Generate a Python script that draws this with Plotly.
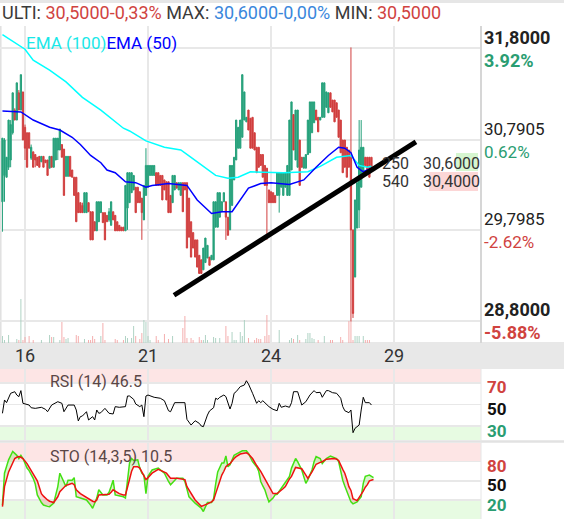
import numpy as np
import plotly.graph_objects as go

W, H = 564, 519

# ---------------- data ----------------
day_ticks_idx = [11, 71, 131, 191]
day_ticks_txt = ["16", "21", "24", "29"]

opens = [
30.11,30.40,30.38,30.49,30.57,30.87,31.12,31.01,31.31,31.12,
31.32,30.93,30.87,30.87,30.59,30.66,30.63,30.60,30.61,30.55,
30.61,30.57,30.57,30.48,30.61,30.49,30.57,30.68,30.68,30.74,
30.69,30.39,30.39,30.61,30.46,30.38,30.38,30.21,30.10,30.07,
29.99,29.99,30.10,30.00,30.00,29.89,29.79,29.89,29.99,29.99,
29.99,29.96,29.91,29.85,30.00,29.96,29.89,29.85,29.83,29.83,
29.79,30.04,30.10,30.21,30.24,30.27,30.27,30.22,30.15,29.91,
30.18,30.27,30.40,30.40,30.40,30.43,30.43,30.40,30.40,30.35,
30.33,30.33,30.18,30.10,30.24,30.32,30.24,30.18,30.32,30.32,
30.32,30.15,29.89,29.77,29.69,29.69,29.52,29.47,29.36,29.44,
29.49,29.50,29.47,29.47,29.83,29.83,29.94,30.00,30.11,30.11,
29.94,29.80,30.07,30.35,30.57,30.70,30.70,30.82,31.01,30.99,
31.12,31.03,31.04,30.87,30.71,30.71,30.63,30.63,30.51,30.48,
30.24,30.22,30.21,30.18,30.18,30.18,30.27,30.18,30.27,30.18,
30.18,30.46,31.07,30.57,30.49,30.79,30.60,30.48,30.48,30.63,
30.65,30.87,30.98,31.12,31.04,31.01,31.04,31.04,31.15,31.09,
31.31,31.23,31.23,31.20,31.12,31.01,30.79,30.79,30.71,30.68,
30.60,29.80,29.28,29.82,30.02,30.27,30.43,30.60,30.60,30.60,30.60]

closes = [
30.81,30.79,30.60,31.01,30.96,31.31,31.01,31.42,31.12,31.51,
30.79,30.70,30.49,30.70,30.71,30.49,30.57,30.51,30.49,30.61,
30.49,30.54,30.40,30.61,30.49,30.81,30.81,30.81,30.91,30.60,
30.18,30.61,30.61,30.39,30.38,30.18,29.89,29.99,29.99,29.99,
30.21,30.21,30.00,29.69,29.69,29.79,30.11,30.11,30.11,29.88,
29.69,29.89,30.00,30.11,29.91,29.79,29.79,29.79,29.79,29.79,
30.29,30.43,30.43,30.43,30.40,29.99,30.10,30.10,29.99,30.29,
30.51,30.51,30.51,30.51,30.51,30.29,30.29,30.29,30.13,30.24,
30.13,29.99,29.99,30.40,30.40,30.26,30.32,30.32,30.00,30.24,
29.60,29.72,29.50,29.60,29.50,29.39,29.32,29.32,29.60,29.71,
29.63,29.41,29.52,30.11,30.11,30.21,30.21,30.11,30.21,29.94,
29.74,30.51,30.51,30.60,31.01,30.93,31.01,31.51,31.32,31.04,
30.90,30.70,30.70,30.68,30.43,30.49,30.51,30.38,30.29,30.29,
30.10,30.10,30.10,30.10,30.43,30.43,30.43,30.43,30.43,30.51,
31.01,31.21,30.68,31.12,31.12,30.29,30.49,30.60,30.63,31.01,
31.21,31.21,31.21,31.01,30.88,31.04,31.42,31.42,31.32,31.31,
31.15,31.10,30.99,31.04,30.82,30.65,30.43,30.49,30.38,30.49,
29.80,28.88,30.13,30.32,30.68,30.71,30.71,30.51,30.43,30.38,30.49]

highs = [
30.81,30.81,30.60,31.01,31.01,31.31,31.14,31.42,31.34,31.51,
31.32,30.96,30.87,30.87,30.74,30.66,30.63,30.60,30.61,30.61,
30.61,30.57,30.57,30.61,30.61,30.81,30.81,30.81,30.91,30.74,
30.69,30.61,30.61,30.61,30.46,30.38,30.38,30.21,30.10,30.10,
30.21,30.21,30.10,30.00,30.00,29.89,30.11,30.11,30.11,29.99,
29.99,29.96,30.04,30.11,30.00,29.96,29.89,29.85,29.83,29.83,
30.29,30.43,30.43,30.43,30.40,30.27,30.27,30.22,30.15,30.29,
30.70,30.51,30.51,30.51,30.51,30.43,30.43,30.40,30.40,30.35,
30.33,30.33,30.18,30.40,30.40,30.32,30.32,30.32,30.32,30.32,
30.32,30.15,29.89,29.77,29.69,29.69,29.52,29.47,29.60,29.71,
29.63,29.50,29.52,30.11,30.11,30.21,30.21,30.11,30.21,30.11,
29.94,30.51,30.51,30.60,31.01,30.93,31.01,31.51,31.32,31.04,
31.12,31.03,31.04,30.87,30.71,30.71,30.63,30.63,30.51,30.48,
30.24,30.22,30.21,30.18,30.43,30.43,30.43,30.43,30.43,30.51,
31.01,31.21,31.07,31.12,31.12,30.79,30.60,30.60,30.63,31.01,
31.21,31.21,31.21,31.12,31.04,31.04,31.42,31.42,31.32,31.31,
31.31,31.23,31.23,31.20,31.12,31.01,30.79,30.79,30.71,30.68,
31.81,29.80,30.13,30.32,31.01,31.01,30.71,30.60,30.60,30.60,30.60]

lows = [
29.78,30.11,30.38,30.46,30.49,30.85,31.01,31.01,31.12,31.12,
30.79,30.57,30.49,30.70,30.57,30.49,30.49,30.51,30.49,30.55,
30.49,30.54,30.40,30.48,30.49,30.49,30.57,30.57,30.68,30.60,
30.18,30.39,30.39,30.39,30.38,30.18,29.89,29.99,29.99,29.99,
29.99,29.99,30.00,29.69,29.69,29.79,29.79,29.89,29.99,29.88,
29.69,29.89,29.89,29.85,29.91,29.79,29.79,29.79,29.79,29.79,
29.79,29.80,30.10,30.21,30.24,29.99,30.10,30.10,29.69,29.91,
30.18,30.27,30.40,30.40,30.40,30.29,30.29,30.29,30.13,30.24,
30.13,29.99,29.99,30.10,30.24,30.26,30.24,30.18,30.00,30.24,
29.60,29.72,29.50,29.60,29.50,29.39,29.32,29.32,29.36,29.44,
29.49,29.41,29.47,29.47,29.83,29.83,29.94,30.00,30.11,29.69,
29.74,29.80,30.07,30.35,30.57,30.70,30.70,30.82,31.01,30.99,
30.90,30.70,30.70,30.68,30.43,30.49,30.51,30.38,30.29,29.69,
30.10,30.10,30.10,30.10,30.18,29.99,30.27,30.18,30.27,30.18,
30.18,30.46,30.68,30.57,30.49,30.29,30.49,30.48,30.48,30.63,
30.65,30.87,30.98,31.01,30.88,31.01,31.04,31.04,31.15,31.09,
31.15,31.10,30.99,31.04,30.82,30.65,30.43,30.49,30.38,30.49,
28.79,28.83,29.28,29.82,29.82,30.27,30.43,30.51,30.43,30.38,30.49]

volumes = [
7,3,0,8,0,0,0,4,3,44,
3,6,0,7,0,3,0,0,0,3,
0,0,0,8,6,6,0,0,3,21,
6,4,5,0,0,0,8,7,0,0,
4,0,3,3,7,4,0,0,7,20,
3,0,0,0,0,4,3,0,0,3,
7,5,0,5,17,7,0,4,10,23,
21,7,3,0,0,7,3,0,0,9,
0,4,0,7,0,0,0,0,15,27,
5,0,5,3,0,0,6,3,3,8,
3,0,0,6,5,0,5,0,0,17,
7,0,11,3,3,0,11,7,23,0,
5,0,0,3,5,4,4,0,7,28,
8,0,0,0,0,13,0,0,0,0,
3,5,4,0,8,3,0,0,4,10,
10,5,4,0,3,0,0,7,0,0,
3,3,0,0,0,6,3,0,0,22,
22,3,7,7,7,0,7,3,3,3,0]

ema100_idx = [0, 11, 15, 23, 31, 39, 48, 54, 59, 62, 70, 79, 87, 92, 99, 104, 110,
              115, 121, 130, 137, 149, 155, 163, 170, 174, 178, 180]
ema100_val = [31.95, 31.79, 31.67, 31.56, 31.43, 31.26, 31.12, 31.01, 30.92, 30.89,
              30.78, 30.71, 30.68, 30.60, 30.48, 30.40, 30.37, 30.38, 30.44, 30.43,
              30.43, 30.44, 30.50, 30.60, 30.62, 30.51, 30.49, 30.50]

ema50_idx = [0, 9, 15, 23, 28, 34, 38, 43, 48, 51, 55, 60, 65, 70, 73, 81, 90, 95,
             102, 107, 112, 116, 120, 126, 131, 140, 147, 153, 159, 164, 167, 170,
             173, 176, 180]
ema50_val = [31.11, 31.10, 31.01, 30.93, 30.90, 30.82, 30.74, 30.62, 30.54, 30.46,
             30.43, 30.33, 30.32, 30.27, 30.29, 30.31, 30.29, 30.13, 29.98, 30.00,
             30.00, 30.13, 30.26, 30.31, 30.32, 30.30, 30.35, 30.49, 30.62, 30.71,
             30.70, 30.65, 30.49, 30.44, 30.48]

trend_idx = [83.7, 201.7]
trend_price = [29.08, 30.77]

rsi_idx = [0,1,2,4,6,7,8,9,10,13, 14,16,19,21,22,24,27,29,30,32,
           35,36,37,38,39,41,42,44,45,46, 47,48,50,52,54,55,57,60,61,62,
           64,65,67,68,69,70,71,74,77,79, 81,82,84,89,90,92,94,96,97,98,
           100,101,103,104,105,106,108,109,111,112, 113,114,116,118,119,120,122,124,125,126,
           127,128,130,132,134,135,136,138,140,141, 142,144,145,146,148,150,152,153,155,156,
           158,159,161,163,165,166,167,169,170,171, 172,174,175,176,177,179,180]
rsi_val = [41.8,54.2,51.7,60.4,61.9,58.8,57.3,62.9,51.1,49.5,
           47.0,46.4,47.4,45.5,43.3,49.5,52.6,51.1,43.3,49.5,
           49.5,44.9,34.7,38.7,39.3,43.3,35.6,38.7,35.6,44.9,
           41.8,42.4,46.4,41.8,41.2,48.0,47.4,48.0,57.9,57.9,
           54.8,50.5,48.0,49.5,38.7,57.9,58.8,56.7,55.8,53.5,
           44.2,43.3,51.7,51.7,36.2,30.9,34.9,32.5,30.0,29.4,
           40.2,44.0,47.0,55.8,54.8,56.7,58.8,57.3,45.8,51.1,
           60.4,61.9,66.6,68.1,72.1,69.1,60.4,51.1,53.5,51.7,
           53.5,51.7,48.0,45.5,44.2,51.1,47.4,48.6,47.4,51.7,
           61.9,61.9,54.8,49.5,52.6,58.8,62.9,61.0,61.3,56.7,
           62.9,62.9,61.0,60.4,55.8,48.0,44.2,42.4,44.9,23.8,
           27.9,30.9,44.9,56.7,51.7,51.7,49.5]

sto_idx = [0,1,3,5,6,7,8,9,10,12, 13,15,16,17,19,20,22,23,25,27,
           28,30,31,32,34,35,36,38,39,41, 43,44,45,46,47,49,51,52,53,54,
           55,57,59,60,61,62,63,64,66,67, 68,69,70,71,73,76,79,80,81,82,
           85,88,89,90,91,94,97,98,100,102, 103,104,105,107,108,109,110,111,113,114,
           116,117,119,120,122,124,125,126,127,128, 129,130,132,133,134,137,138,140,141,143,
           144,146,148,149,151,152,153,155,156,158, 160,162,163,164,166,167,168,169,170,171,
           173,175,176,177,178,179,181]
sto_k = [12,62,83,96,93,90,85,90,85,70, 66,54,45,28,16,12,10,9.5,15,41,
         62,46,41,51,51,55,25,23,22,20, 12,7,15,23,36,28,28,32,41,51,
         28,27,25,23,51,78,85,82,83,70, 62,59,30,57,67,70,62,55,49,44,
         54,54,49,37,25,15,7,2,16,16, 22,45,64,78,78,89,72,75,90,92,
         96,97,97,93,80,72,65,49,42,36, 26,17,23,28,29,43,48,57,70,85,
         80,67,46,52,67,80,88,85,77,85, 89,86,85,80,51,42,33,25,17,14,
         17,25,46,57,58,59,55]
sto_d = [9.5,41,64,80,85,87,88,87,85,77, 72,62,55,50,30,26,20,18,16,25,
         33,40,43,44,46,44,36,30,28,23, 20,18,17,20,28,28,28,29,32,36,
         34,30,28,28,40,55,65,72,72,70, 64,58,52,55,62,68,63,62,58,54,
         54,53,52,41,36,20,10,11,14,17, 20,30,41,59,65,72,75,77,85,88,
         92,93,94,92,85,74,70,65,59,53, 46,40,30,30,30,38,41,53,57,71,
         70,69,59,54,64,70,76,79,80,84, 85,85,84,82,68,62,52,41,35,22,
         19,28,34,40,44,50,52]

price_levels = [31.8, 30.7905, 29.7985, 28.8]
price_texts = ["31,8000", "30,7905", "29,7985", "28,8000"]
pct_texts = ["3.92%", "0.62%", "-2.62%", "-5.88%"]
level_bold = [True, False, False, True]

book_sizes = ["250", "540"]
book_prices = [30.60, 30.40]
book_texts = ["30,6000", "30,4000"]

# ---------------- styling ----------------
FONT = "Roboto"
UP = "#26a17b"
DN = "#d13f3f"
UP_VOL = "#a8cfbf"
DN_VOL = "#f3a7a7"
GRID = "#e8e8e8"
GREEN_TXT = "#2a9d72"
RED_TXT = "#d0433f"


def pxx(x):
    return x / W


def pxy(y):
    return 1 - y / H


X_RIGHT = 481
main_dom = [pxy(343), pxy(26)]
rsi_dom = [pxy(440), pxy(369)]
sto_dom = [0, pxy(442.7)]
x_dom = [0, pxx(X_RIGHT)]
x_range = [-1.195, 233.44]

fig = go.Figure()

n = len(opens)
idx = list(range(n))
vol_colors = [UP_VOL if c >= o else DN_VOL for o, c in zip(opens, closes)]

fig.add_trace(go.Candlestick(
    x=idx, open=opens, high=highs, low=lows, close=closes,
    increasing=dict(line=dict(color=UP, width=1), fillcolor=UP),
    decreasing=dict(line=dict(color=DN, width=1), fillcolor=DN),
    whiskerwidth=0, xaxis="x", yaxis="y", hoverinfo="skip"))
fig.add_trace(go.Scatter(x=ema100_idx, y=ema100_val, mode="lines",
                         line=dict(color="#00ffff", width=1.5), xaxis="x", yaxis="y"))
fig.add_trace(go.Scatter(x=ema50_idx, y=ema50_val, mode="lines",
                         line=dict(color="#0000ff", width=1.5), xaxis="x", yaxis="y"))
fig.add_trace(go.Scatter(x=trend_idx, y=trend_price, mode="lines",
                         line=dict(color="#000000", width=5), xaxis="x", yaxis="y"))
fig.add_trace(go.Bar(x=idx, y=volumes, marker=dict(color=vol_colors, line=dict(width=0)),
                     width=0.45, xaxis="x", yaxis="y4", hoverinfo="skip"))

# RSI
fig.add_trace(go.Scatter(x=rsi_idx, y=rsi_val, mode="lines",
                         line=dict(color="#000000", width=1), xaxis="x2", yaxis="y2"))

# STO with fills
k = np.array(sto_k, dtype=float)
d = np.array(sto_d, dtype=float)
top = np.maximum(k, d)
fig.add_trace(go.Scatter(x=sto_idx, y=k, mode="lines", line=dict(width=0),
                         xaxis="x3", yaxis="y3", hoverinfo="skip"))
fig.add_trace(go.Scatter(x=sto_idx, y=top, mode="lines", line=dict(width=0), fill="tonexty",
                         fillcolor="rgba(235,140,140,0.35)", xaxis="x3", yaxis="y3", hoverinfo="skip"))
fig.add_trace(go.Scatter(x=sto_idx, y=d, mode="lines", line=dict(width=0),
                         xaxis="x3", yaxis="y3", hoverinfo="skip"))
fig.add_trace(go.Scatter(x=sto_idx, y=top, mode="lines", line=dict(width=0), fill="tonexty",
                         fillcolor="rgba(140,230,110,0.35)", xaxis="x3", yaxis="y3", hoverinfo="skip"))
fig.add_trace(go.Scatter(x=sto_idx, y=k, mode="lines", line=dict(color="#44e014", width=1.5),
                         xaxis="x3", yaxis="y3"))
fig.add_trace(go.Scatter(x=sto_idx, y=d, mode="lines", line=dict(color="#ee1111", width=1.5),
                         xaxis="x3", yaxis="y3"))

common_x = dict(range=x_range, domain=x_dom, tickvals=day_ticks_idx, showgrid=True,
                gridcolor=GRID, gridwidth=2, zeroline=False, showline=False, ticks="")

fig.update_layout(
    width=W, height=H, margin=dict(l=0, r=0, t=0, b=0),
    paper_bgcolor="white", plot_bgcolor="rgba(0,0,0,0)", showlegend=False,
    boxgap=0.12,
    font=dict(family=FONT),
    xaxis=dict(**common_x, anchor="y", ticktext=day_ticks_txt, showticklabels=True,
               tickfont=dict(size=18, color="#333333", family=FONT),
               rangeslider=dict(visible=False)),
    yaxis=dict(domain=main_dom, range=[28.554, 32.046], tickvals=price_levels, showgrid=True,
               gridcolor=GRID, gridwidth=2, showticklabels=False, zeroline=False, anchor="x"),
    yaxis4=dict(overlaying="y", range=[0, 317], visible=False, anchor="x"),
    xaxis2=dict(**common_x, anchor="y2", matches="x", showticklabels=False),
    yaxis2=dict(domain=rsi_dom, range=[17, 83], tickvals=[30, 50, 70], showgrid=True,
                gridcolor=GRID, gridwidth=1.5, showticklabels=False, zeroline=False, anchor="x2"),
    xaxis3=dict(**common_x, anchor="y3", matches="x", showticklabels=False),
    yaxis3=dict(domain=sto_dom, range=[-9.8, 109.8], tickvals=[20, 50, 80], showgrid=True,
                gridcolor=GRID, gridwidth=1.5, showticklabels=False, zeroline=False, anchor="x3"),
)

shapes = []
shapes.append(dict(type="rect", xref="paper", yref="paper", x0=0, x1=1, y0=pxy(3), y1=1,
                   fillcolor="#e6e6e6", line=dict(width=0), layer="below"))
shapes.append(dict(type="rect", xref="paper", yref="paper", x0=0, x1=1, y0=pxy(369), y1=pxy(342),
                   fillcolor="#e8e8e8", line=dict(width=0), layer="below"))
shapes.append(dict(type="rect", xref="paper", yref="y2", x0=0, x1=pxx(X_RIGHT), y0=70, y1=83,
                   fillcolor="#fde5e5", line=dict(width=0), layer="below"))
shapes.append(dict(type="rect", xref="paper", yref="y2", x0=0, x1=pxx(X_RIGHT), y0=17, y1=30,
                   fillcolor="#e7fbe2", line=dict(width=0), layer="below"))
shapes.append(dict(type="rect", xref="paper", yref="y3", x0=0, x1=pxx(X_RIGHT), y0=80, y1=109.8,
                   fillcolor="#fde5e5", line=dict(width=0), layer="below"))
shapes.append(dict(type="rect", xref="paper", yref="y3", x0=0, x1=pxx(X_RIGHT), y0=-9.8, y1=20,
                   fillcolor="#e7fbe2", line=dict(width=0), layer="below"))
shapes.append(dict(type="rect", xref="paper", yref="paper", x0=0, x1=1, y0=pxy(442.7), y1=pxy(440.3),
                   fillcolor="#e2e2e2", line=dict(width=0), layer="below"))
shapes.append(dict(type="line", xref="paper", yref="paper", x0=pxx(X_RIGHT), x1=pxx(X_RIGHT),
                   y0=pxy(343), y1=pxy(26), line=dict(color="#d6d6d6", width=2)))
shapes.append(dict(type="line", xref="paper", yref="paper", x0=pxx(X_RIGHT), x1=pxx(X_RIGHT),
                   y0=0, y1=pxy(369), line=dict(color="#e6e6e6", width=1)))
shapes.append(dict(type="line", xref="paper", yref="paper", x0=pxx(0.8), x1=pxx(0.8),
                   y0=pxy(343), y1=pxy(26), line=dict(color="#e0e0e0", width=1.5), layer="below"))
shapes.append(dict(type="rect", xref="paper", yref="paper", x0=pxx(456), x1=pxx(478),
                   y0=pxy(171), y1=pxy(153), fillcolor="#d6f6d0", line=dict(width=0), layer="below"))
shapes.append(dict(type="rect", xref="paper", yref="paper", x0=pxx(429), x1=pxx(478),
                   y0=pxy(191), y1=pxy(172), fillcolor="#fcd6d6", line=dict(width=0), layer="below"))
fig.update_layout(shapes=shapes)

ann = []
title = ("<span style='color:#3a3a3a'>ULTI: </span>"
         "<span style='color:%s'>30,5000-0,33%%</span>"
         "<span style='color:#3a3a3a'> MAX: </span>"
         "<span style='color:#3a87dc'>30,6000-0,00%%</span>"
         "<span style='color:#3a3a3a'> MIN: </span>"
         "<span style='color:%s'>30,5000</span>") % (RED_TXT, RED_TXT)
ann.append(dict(text=title, xref="paper", yref="paper", x=pxx(0), y=pxy(12.5),
                xanchor="left", yanchor="middle", showarrow=False,
                font=dict(size=18, family=FONT)))
ann.append(dict(text="<span style='color:#19e8e8'>EMA (100)</span><span style='color:#0000ff'>EMA (50)</span>",
                xref="paper", yref="paper", x=pxx(24), y=pxy(43.5), xanchor="left", yanchor="middle",
                showarrow=False, font=dict(size=17, family=FONT)))

for lvl, ptxt, pct, bold in zip(price_levels, price_texts, pct_texts, level_bold):
    pct_color = GREEN_TXT if not pct.startswith("-") else RED_TXT
    t1 = "<b>%s</b>" % ptxt if bold else ptxt
    t2 = "<b>%s</b>" % pct if bold else pct
    sz = 18 if bold else 17
    ann.append(dict(text=t1, xref="paper", yref="y", x=pxx(482), y=lvl, yshift=11,
                    xanchor="left", yanchor="middle", showarrow=False,
                    font=dict(size=sz, color="#222222", family=FONT)))
    ann.append(dict(text=t2, xref="paper", yref="y", x=pxx(482), y=lvl, yshift=-12,
                    xanchor="left", yanchor="middle", showarrow=False,
                    font=dict(size=sz, color=pct_color, family=FONT)))

for sz_txt, bp, bt, sh in zip(book_sizes, book_prices, book_texts, [-6, -6]):
    ann.append(dict(text=sz_txt, xref="paper", yref="y", x=pxx(380), y=bp, yshift=sh,
                    xanchor="left", yanchor="middle", showarrow=False,
                    font=dict(size=16, color="#333333", family=FONT)))
    ann.append(dict(text=bt, xref="paper", yref="y", x=pxx(421), y=bp, yshift=sh,
                    xanchor="left", yanchor="middle", showarrow=False,
                    font=dict(size=16, color="#333333", family=FONT)))

for v, c, sh in [(70, RED_TXT, -4), (50, "#111111", -4.5), (30, GREEN_TXT, -5)]:
    ann.append(dict(text="<b>%d</b>" % v, xref="paper", yref="y2", x=pxx(485), y=v, yshift=sh,
                    xanchor="left", yanchor="middle", showarrow=False,
                    font=dict(size=17, color=c, family=FONT)))
for v, c, sh in [(80, RED_TXT, -4), (50, "#111111", -4), (20, GREEN_TXT, -5)]:
    ann.append(dict(text="<b>%d</b>" % v, xref="paper", yref="y3", x=pxx(485), y=v, yshift=sh,
                    xanchor="left", yanchor="middle", showarrow=False,
                    font=dict(size=17, color=c, family=FONT)))

ann.append(dict(text="RSI (14) 46.5", xref="paper", yref="paper", x=pxx(48), y=pxy(381.5),
                xanchor="left", yanchor="middle", showarrow=False,
                font=dict(size=16, color="#5a4646", family=FONT)))
ann.append(dict(text="STO (14,3,5) 10.5", xref="paper", yref="paper", x=pxx(48), y=pxy(456.5),
                xanchor="left", yanchor="middle", showarrow=False,
                font=dict(size=16, color="#5a4646", family=FONT)))
fig.update_layout(annotations=ann)

fig.write_html("out.html", config={"displayModeBar": False, "staticPlot": True})

# remove the default page margin so the figure sits at the window's top-left corner
with open("out.html", "r", encoding="utf-8") as fh:
    html = fh.read()
html = html.replace("<head>", "<head><style>html,body{margin:0;padding:0;overflow:hidden;}</style>", 1)
with open("out.html", "w", encoding="utf-8") as fh:
    fh.write(html)
